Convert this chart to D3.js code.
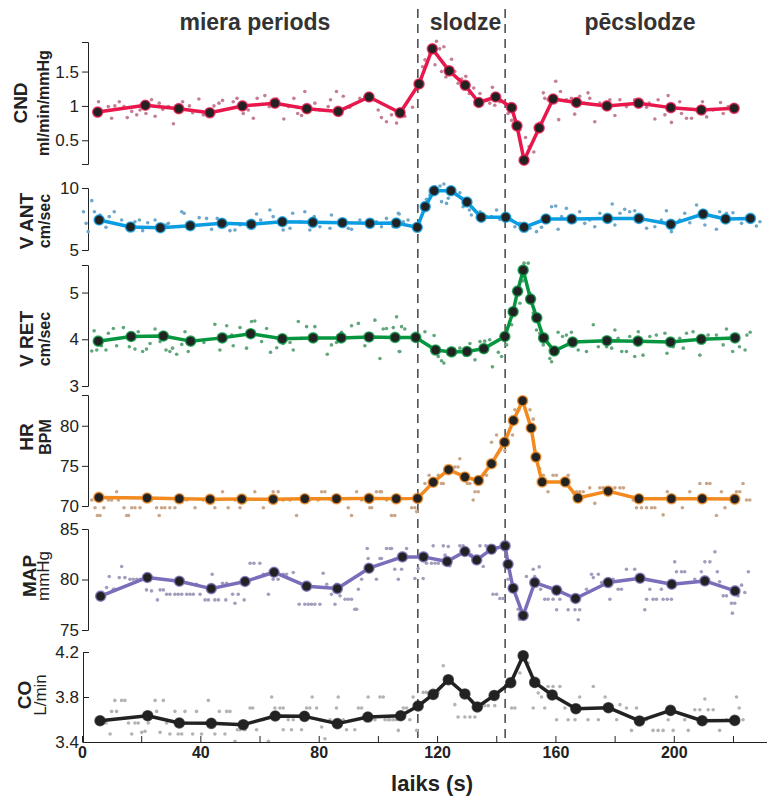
<!DOCTYPE html>
<html lang="lv">
<head>
<meta charset="UTF-8">
<title>Slodzes tests</title>
<script src="https://d3js.org/d3.v7.min.js"></script>
<style>
  body { margin: 0; background: #fff; }
  text { font-family: "Liberation Sans", Arial, sans-serif; fill: #222; }
  .axis path, .axis line { stroke: #222; stroke-width: 1; }
  .axis text { font-size: 17px; fill: #222; }
  .xaxis text { font-weight: bold; font-size: 16px; }
</style>
</head>
<body>
<svg id="chart" width="767" height="800"></svg>
<script>
const phaseNames = ['miera periods', 'slodze', 'pēcslodze'];
const phaseBreaks = [113.5, 143];
const timeTicks = [0, 20, 40, 60, 80, 100, 120, 140, 160, 180, 200, 220];
const timeLabels = [0, 40, 80, 120, 160, 200];

// CND, ml/min/mmHg
const cndTime = [5.3, 21.4, 32.7, 43.2, 54.2, 65.2, 76, 86.6, 97, 107.5, 113.9, 118.4, 124.1, 129.5, 134.1, 139.8, 145.2, 147, 149.4, 154.5, 159.2, 167.1, 177.4, 188.1, 199, 209.3, 220.4];
const cndMean = [0.91, 1.01, 0.96, 0.90, 1.00, 1.04, 0.96, 0.92, 1.13, 0.90, 1.32, 1.83, 1.51, 1.30, 1.05, 1.13, 0.975, 0.71, 0.21, 0.68, 1.10, 1.05, 1.00, 1.04, 0.975, 0.94, 0.965];
const cndDots = [[5.6,1.06],[8.9,0.99],[10,0.82],[11.1,1],[12.6,1.06],[14.2,0.99],[15.3,0.83],[16.8,0.92],[18.5,0.87],[19.6,0.94],[21.6,0.89],[23.5,1.09],[24.7,0.85],[26.1,1.04],[27.3,0.95],[29.2,0.99],[30.9,0.74],[34,1.06],[36.3,1],[37.4,0.9],[39.5,1.1],[41,0.87],[42.3,0.94],[44.6,1],[46.3,1.04],[47.5,1.08],[51.1,1.06],[52.4,1.11],[54.5,0.89],[56.2,0.94],[57.9,0.82],[59.2,1.11],[61.8,1.15],[63.3,0.99],[65.8,1.1],[68.2,0.81],[69.8,0.99],[71.6,1.11],[72.9,0.89],[74.2,0.86],[75.3,1.21],[78.7,1.04],[80.4,0.94],[83.2,0.99],[84,1.09],[86,1.21],[88.3,1.14],[90.5,0.98],[93.9,1.11],[95.6,1.13],[98.4,1.09],[100.1,0.94],[101.2,0.83],[102.9,0.77],[104.6,0.87],[106.3,0.75],[109.1,0.85],[111.7,0.98],[115.1,1.57],[115.9,1.67],[117.6,1.77],[119.3,1.6],[119.8,1.94],[120.9,1.83],[122.3,1.86],[121.5,1.5],[123,1.42],[124.9,1.68],[126,1.5],[127.1,1.33],[128.3,1.39],[129.7,1.43],[130.9,1.18],[132.4,1.26],[134.5,1.18],[136.7,1.08],[137.8,1.04],[138.7,1.27],[139.5,1.01],[141.2,1.06],[144,0.89],[145.2,0.79],[148,0.65],[149.9,0.54],[151.1,0.41],[152.7,0.33],[154.7,0.75],[155.9,1.19],[156.4,1.11],[157.5,1.09],[160.1,1.36],[161.1,0.8],[161.7,1.21],[163.7,1.09],[165.4,1.11],[166.5,0.88],[168.2,1.14],[169.6,1.04],[171,1.19],[171.6,1.11],[173.3,0.77],[175,1.04],[178.4,1.09],[180.1,0.86],[181.8,1.09],[184,0.99],[186.8,1.09],[190.8,0.98],[191.7,1.04],[193.6,0.81],[194.7,1.09],[197,0.87],[198.1,1.15],[199.2,0.76],[202,1.06],[202.6,0.89],[204.3,0.82],[206,0.82],[207.7,0.94],[209.7,1.06],[211.1,0.84],[213.3,0.94],[215.8,1.05],[216.7,0.89],[218.4,0.99]];

// V ANT, cm/sec
const vantTime = [5.8, 16.4, 26.5, 36.6, 47.3, 57.2, 67.7, 78, 88, 97.3, 106.2, 113.3, 116, 119, 124.7, 130.1, 134.9, 143.2, 149.4, 156.8, 165.5, 177.6, 188.2, 199, 209.9, 217.5, 225.9];
const vantMean = [7.42, 6.85, 6.80, 6.96, 7.15, 7.07, 7.28, 7.23, 7.20, 7.15, 7.17, 6.83, 8.5, 9.78, 9.78, 8.87, 7.64, 7.64, 6.83, 7.5, 7.5, 7.55, 7.55, 7.07, 7.9, 7.5, 7.55];
const vantDots = [[0.5,8.09],[1.4,7.15],[2.1,6.48],[3.3,8.98],[4.2,8.09],[6.1,7.82],[8.1,6.83],[9.2,7.69],[10.9,8.09],[13.4,7.42],[17.9,7.28],[19.4,7.42],[20.5,6.56],[22.2,7.2],[24.7,7.42],[27.5,6.67],[28.4,7.02],[29.2,7.15],[33.7,8.09],[34.5,7.96],[35.4,6.88],[37.8,7.02],[39.6,7.61],[42.1,7.55],[43.8,6.67],[45.7,7.55],[48.9,7.02],[50,6.56],[51.7,6.61],[53.4,7.02],[56.2,7.28],[59,7.9],[60.4,7.42],[63.5,8.23],[64.6,7.69],[68,6.61],[70.3,6.75],[71.2,7.96],[73.6,7.28],[75.3,8.09],[77,6.61],[78.5,7.69],[80.4,6.88],[83.8,6.75],[84.3,7.82],[87.2,7.15],[90,6.75],[91.1,6.67],[93.9,7.42],[97.9,7.42],[99.5,7.28],[101.2,6.88],[102.9,7.55],[105.2,6.88],[106.9,7.96],[107.2,7.9],[108.6,7.28],[110.2,7.42],[116.4,9.09],[117.6,9.44],[119.3,10.1],[121,10.16],[122.3,10.32],[121.5,8.9],[123.2,8.76],[123.8,9.17],[126.6,9.44],[127.7,9.62],[128.8,8.49],[130.9,8.23],[131.6,7.82],[134.5,8.09],[136.7,7.69],[138.4,7.69],[140.1,8.23],[141.2,7.47],[145.2,7.42],[146.3,6.88],[148,7.15],[151.4,6.75],[153.6,6.48],[155.3,6.83],[158.7,8.49],[160.1,8.55],[160.9,6.67],[162.1,7.69],[163.7,8.36],[166.6,7.28],[168.2,8.09],[169.9,7.15],[171.6,7.42],[173.3,6.88],[175,7.96],[177.3,7.42],[179.2,8.71],[180.1,7.02],[181.8,7.96],[183.4,8.28],[185.1,8.09],[186.8,8.17],[189.6,7.42],[190.8,6.75],[193.6,6.88],[195.8,7.42],[197.5,8.17],[199.2,6.48],[202,7.42],[203.7,7.96],[205.4,7.2],[207.7,8.63],[210.5,7.02],[214.4,6.67],[215.5,8.09],[217.8,7.96],[220,8.01],[222.9,7.15],[227.9,6.94],[229.1,7.28]];

// V RET, cm/sec
const vretTime = [5.5, 16.6, 27.5, 36.7, 47.4, 57, 67.7, 78.1, 87.6, 97, 105.8, 112.8, 119.5, 124.9, 130.1, 135.8, 142.9, 145.7, 147.2, 149.1, 151.6, 153.7, 156, 159.6, 165.8, 177.4, 187.9, 198.9, 209.3, 220.7];
const vretMean = [3.96, 4.06, 4.07, 3.96, 4.03, 4.12, 4.01, 4.03, 4.03, 4.05, 4.04, 4.04, 3.77, 3.73, 3.74, 3.80, 4.06, 4.59, 5.03, 5.48, 4.86, 4.46, 4.03, 3.75, 3.94, 3.97, 3.96, 3.94, 4.00, 4.03];
const vretDots = [[3.3,3.75],[4.1,4.18],[5,3.77],[6.6,3.86],[8.1,3.77],[8.9,4.13],[10.6,4.23],[11.7,3.86],[14,4.25],[16,3.84],[17.9,3.79],[19,4.16],[20.5,3.74],[21.8,3.79],[23,3.91],[24.7,4.22],[26.4,3.95],[28.4,3.77],[29.7,3.74],[30.6,3.81],[32,3.68],[33.7,3.89],[34.8,4.16],[35.9,3.74],[37.6,3.93],[41.2,3.93],[44.9,4.32],[46.6,3.77],[48.9,4.29],[50.6,4.09],[51.1,3.86],[53.4,4.25],[55.6,3.81],[57.3,4.38],[58.4,4.39],[60.7,3.95],[62.4,4.23],[63.7,3.72],[65.8,3.82],[68,3.91],[70.3,3.93],[71.4,3.77],[73.1,4.38],[74.2,4.02],[75.9,4.27],[78.7,4.27],[79.8,4.02],[82.9,3.68],[84.3,3.88],[86,3.93],[87.7,4.15],[91.1,4.29],[93.4,4.34],[95.6,3.86],[99,4.41],[100.7,3.59],[102.9,4.23],[104.6,4.06],[106.3,4.48],[107.2,3.74],[101.8,4.22],[105.2,4.25],[107.4,3.74],[108,4.27],[109.1,4.22],[115.9,4.16],[119,4.08],[120.4,3.63],[121.5,3.54],[122.3,3.49],[123.8,3.68],[126,3.7],[127.7,3.81],[129.4,3.66],[131.1,3.91],[132.8,3.56],[134.5,3.95],[136.1,3.96],[137.8,3.99],[138.7,3.41],[140.7,3.72],[141.8,3.63],[143.5,3.88],[145.2,4.31],[146.3,4.66],[148,4.77],[148.9,5.25],[149.4,5.63],[150.8,5.63],[151.4,4.98],[151.9,4.77],[152.5,4.56],[153.6,4.2],[154.7,4.13],[155.9,3.88],[158.1,3.59],[158.7,3.52],[160.9,4.15],[162.4,4.06],[163.7,4.09],[165.4,4.15],[167.7,3.77],[170.5,3.74],[172.8,4.31],[174.5,3.84],[177.3,3.84],[179,3.81],[180.1,4.2],[181.2,4.02],[182.4,3.74],[184,3.74],[185.1,4.06],[186.8,3.63],[188,4.16],[189.6,3.66],[191.9,4.06],[194.1,4.09],[197,4.13],[197.7,3.7],[199.8,3.84],[202,4.02],[203.2,3.81],[204.3,4.13],[206.5,4.16],[208.8,3.66],[211.6,4.09],[214.4,4.09],[216.7,3.88],[217.8,4.22],[219.9,3.74],[222.2,3.84],[224.1,3.77],[224.7,4.09],[225.8,4.15]];

// HR, BPM
const hrTime = [5.7, 22, 32.9, 43.3, 54, 64.6, 75.3, 86, 97, 106.2, 113.4, 118.7, 123.9, 129.4, 134, 138.4, 142.8, 145.8, 148.9, 151.8, 153.4, 155.5, 163.3, 167.6, 177.8, 188.2, 199.2, 209.6, 220.6];
const hrMean = [71.07, 70.99, 70.9, 70.83, 70.86, 70.83, 70.9, 70.9, 70.95, 70.9, 70.95, 72.96, 74.53, 73.62, 73.17, 75.27, 77.94, 80.65, 83.12, 79.72, 76.09, 73.0, 73.0, 70.99, 71.85, 70.9, 70.9, 70.9, 70.86];
const hrDots = [[3.3,70.74],[4.4,69.79],[5.2,68.81],[6.1,68.81],[7.4,69.79],[8.9,70.74],[10,70.74],[11.7,71.77],[12.3,70.74],[14.2,69.79],[15.1,68.81],[15.7,68.81],[16.8,69.79],[17.9,69.79],[19.6,69.79],[21.8,70.74],[23.5,70.74],[25.2,69.79],[26.1,68.81],[26.9,69.79],[28,69.79],[29.7,69.79],[31.4,69.79],[33.7,70.74],[35.4,70.74],[38.2,69.79],[41,70.74],[44.9,69.79],[47.5,71.77],[49.4,69.79],[51.7,70.74],[53.4,69.79],[55.6,70.74],[58.4,71.77],[61.3,69.79],[63.5,70.74],[64.6,71.77],[66.3,71.77],[68,70.74],[70.3,70.74],[72.5,68.81],[74.8,70.74],[77,70.74],[79.8,70.74],[81,71.77],[82.1,71.77],[84.3,70.74],[87.2,70.74],[90,69.79],[91.1,68.81],[92.8,71.77],[94.5,70.74],[97.3,69.79],[97.9,69.79],[99.5,71.77],[100.7,71.77],[102.9,70.74],[104.6,68.81],[105.7,68.81],[101.2,71.77],[111.4,69.79],[112.5,69.79],[113.1,69.3],[115.9,72.8],[117.3,73.83],[118.7,73.42],[120.4,73.83],[121.5,72.8],[122.1,72.8],[126,74.86],[127.7,75.88],[127.1,74.86],[130.2,72.8],[131.1,72.8],[132.2,70.74],[132.8,71.77],[133.9,71.77],[136.7,73.83],[138.4,77.94],[140.1,78.85],[141.2,76.91],[142.9,76.91],[144,77.74],[145.5,78.85],[146.3,81.98],[147.7,81.98],[151.4,81.98],[152.5,80.82],[153.6,76.3],[154.7,74.65],[155.9,73.83],[157.5,71.77],[159.2,73.83],[160.3,73.83],[164.3,73.83],[167.1,71.77],[168.2,71.77],[169.4,71.77],[171.6,72.26],[173.3,70.33],[175,72.26],[176.1,72.26],[178.4,72.26],[180.1,72.26],[181.8,72.26],[183,72.26],[186.3,70.74],[187.4,69.79],[189.1,69.79],[190.8,69.79],[192.5,69.79],[193.6,69.79],[196.4,68.89],[197.8,71.77],[200.3,70.74],[202.9,69.79],[205.4,71.77],[208.8,72.8],[211.1,72.8],[212.2,72.8],[214.4,68.81],[216.1,71.77],[217.3,69.79],[221.2,71.77],[222.3,71.77],[223.4,72.8],[224.6,70.74],[225.7,70.74]];

// MAP, mmHg
const mapTime = [6.3, 22.1, 32.9, 43.7, 55.1, 64.9, 75.9, 86.3, 97, 108.3, 115.4, 123.4, 129.4, 133.4, 138.4, 143, 144, 145.7, 149.1, 153, 160.4, 166.8, 177.8, 188.6, 199.3, 210.5, 220.7];
const mapMean = [78.35, 80.2, 79.83, 79.1, 79.8, 80.72, 79.34, 79.1, 81.12, 82.24, 82.24, 81.78, 82.77, 81.94, 83.0, 83.33, 81.51, 79.14, 76.44, 79.7, 78.94, 78.12, 79.7, 80.13, 79.53, 79.86, 78.87];
const mapDots = [[8.3,79.2],[9.2,80.29],[10.6,79.04],[11.1,79.04],[12.6,80.19],[13.4,81.28],[14.5,80.19],[16.2,80.03],[17.3,80.03],[18.5,80.03],[19.6,80.03],[21.8,78.97],[23.5,78.87],[25.5,77.98],[26.4,78.97],[27.5,78.97],[28.6,78.54],[29.7,78.54],[31.4,78.54],[32.5,78.54],[33.7,78.54],[35.4,78.54],[36.5,78.54],[37.6,78.54],[38.7,79.53],[39.9,78.54],[41.6,77.98],[42.7,77.98],[44,80.52],[44.9,77.98],[46.1,77.98],[47.5,79.63],[48.9,79.63],[48.6,77.98],[50.9,78.54],[51.7,77.65],[52.8,78.54],[54.8,77.98],[55.1,79.53],[56.8,81.61],[58.1,81.61],[60.1,81.61],[61.3,80.52],[62.4,80.52],[63,78.54],[64.6,80.03],[66.3,80.03],[68,80.52],[69.1,80.52],[71.4,80.69],[73.4,77.55],[75.3,77.55],[76.5,77.55],[77.6,77.55],[78.7,77.55],[80.4,77.55],[81.5,80.62],[82.7,79.53],[84.3,78.54],[85.5,77.55],[86,79.53],[87.2,78.38],[88.9,78.05],[90,78.05],[91.1,78.05],[92.2,77.06],[92.8,77.06],[93.4,79.04],[94.5,80.03],[96.4,83.07],[96.7,82.08],[99.5,80.03],[100.7,82.08],[102.9,83.07],[104.1,83.07],[105.7,82.01],[106.9,80.03],[101.2,82.08],[104.6,83.07],[105.7,81.02],[108,81.02],[109.7,83.07],[112.5,80.1],[113.6,81.09],[115.3,80.1],[116.4,81.61],[118.1,81.61],[118.7,83.33],[119.3,81.61],[120.4,81.61],[122.1,83.33],[122.7,82.41],[123.8,83.26],[124.3,81.35],[127.7,83.33],[128.8,83.33],[131.6,82.41],[134.5,83.33],[135.6,81.28],[136.5,83.33],[138.9,78.54],[140.1,78.54],[141.2,78.12],[142.3,78.12],[144,80.03],[147.4,77.06],[147.9,76.07],[150.2,80.29],[152.5,81.02],[153,80.29],[154.5,81.25],[155,79.04],[156.4,78.05],[157.5,78.05],[159.2,78.05],[160.4,77],[161.5,78.05],[164.3,77],[166.6,77],[167.7,76.01],[168.2,77],[170.5,79.04],[172.2,80.52],[172.8,80.19],[174.5,80.52],[175.6,79.7],[178.4,78.05],[179.5,80.03],[181.2,79.04],[182.3,79.04],[184,81.02],[186.8,81.02],[188.5,80.03],[190.2,77],[190.8,78.05],[191.9,79.04],[193,78.05],[194.1,78.05],[195.8,79.04],[196.4,78.05],[197.8,78.05],[199.2,78.05],[200.3,81.75],[200.9,80.76],[202.6,80.76],[203.7,80.76],[207.1,80.03],[209.3,80.76],[210.5,81.75],[212.2,81.75],[213.9,82.74],[214.7,80.76],[215.5,79.77],[216.7,78.38],[217.8,78.38],[219.5,77.65],[219.8,76.67],[220.6,77.65],[221.7,78.38],[222.9,79.44],[224,78.71],[225.2,80.76]];

// CO, L/min
const coTime = [6.1, 22.2, 32.9, 43.7, 54.5, 65.3, 75.2, 86.3, 96.6, 107.7, 113.6, 118.7, 123.8, 129.4, 133.6, 139.3, 144.9, 149.1, 153, 158.9, 166.9, 177.9, 188.4, 198.9, 209.6, 220.6];
const coMean = [3.589, 3.634, 3.569, 3.566, 3.554, 3.631, 3.628, 3.563, 3.622, 3.634, 3.72, 3.823, 3.954, 3.827, 3.711, 3.814, 3.927, 4.167, 3.93, 3.818, 3.696, 3.705, 3.587, 3.681, 3.589, 3.592];
const coDots = [[8.1,3.569],[9.5,3.471],[10,3.672],[11.1,3.77],[11.7,3.672],[13.4,3.77],[14.5,3.77],[15.7,3.569],[16.8,3.471],[17.9,3.569],[19,3.569],[20.2,3.486],[21.3,3.495],[22.4,3.569],[24.7,3.77],[25.2,3.672],[26.4,3.486],[27.5,3.77],[28.6,3.569],[29.7,3.471],[31.4,3.672],[32.5,3.471],[33.7,3.471],[34.8,3.672],[35.4,3.569],[37.4,3.471],[38.7,3.672],[40.4,3.471],[42.7,3.77],[44.9,3.471],[46.4,3.672],[48.3,3.471],[48.9,3.672],[50,3.672],[51.7,3.406],[52.5,3.509],[53.4,3.509],[55.1,3.509],[56.8,3.702],[57.7,3.702],[59,3.509],[61.3,3.598],[63,3.406],[64.1,3.8],[65.2,3.702],[66.9,3.702],[68,3.702],[68,3.509],[69.7,3.598],[70.8,3.509],[71.4,3.598],[74.2,3.509],[75.9,3.702],[77,3.702],[77.8,3.8],[79.3,3.702],[80.4,3.598],[81,3.533],[82.1,3.429],[83.8,3.598],[86,3.702],[86.6,3.8],[88.3,3.598],[89.4,3.509],[92.2,3.509],[93.4,3.702],[94.5,3.702],[96.2,3.598],[96.7,3.8],[99,3.598],[100.7,3.8],[101.8,3.8],[104.1,3.598],[106.3,3.598],[102.4,3.598],[103.5,3.598],[105.2,3.598],[106.9,3.503],[108.6,3.702],[109.7,3.702],[110.8,3.598],[111.9,3.8],[113.1,3.503],[115.3,3.841],[116.4,3.841],[118.1,3.841],[120.4,3.841],[122.1,4.078],[123.8,3.954],[126,3.732],[127.1,3.622],[129.4,3.622],[131.1,3.622],[132.8,3.622],[136.1,3.723],[137.3,3.723],[139.5,3.723],[143.5,3.894],[145.2,3.702],[146.3,3.702],[148,4.013],[150.8,4.102],[152.5,3.702],[153,3.894],[154.2,3.835],[155.3,3.8],[156.4,3.702],[157.5,3.894],[159.2,3.894],[160.4,3.598],[161.5,3.894],[163.2,3.702],[164.3,3.598],[166.6,3.598],[168.2,3.8],[171,3.598],[172.8,3.894],[174.5,3.598],[176.8,3.8],[180.7,3.598],[181.8,3.732],[184,3.702],[185.7,3.503],[187.4,3.702],[190.8,3.598],[193,3.503],[194.7,3.503],[196.4,3.503],[198.1,3.598],[199.8,3.503],[203.7,3.598],[204.9,3.503],[207.1,3.687],[208.8,3.687],[210.5,3.782],[211.6,3.687],[213.3,3.687],[215.5,3.503],[217.8,3.598],[221.2,3.8],[222.1,3.702],[223.4,3.598]];

const panels = [
  { name: 'CND', unit: 'ml/min/mmHg', unitBold: true, time: cndTime, mean: cndMean, dots: cndDots,
    domain: [0.155, 1.93], top: 42, bottom: 164, ticks: [0.5, 1, 1.5], fmt: d => String(d),
    color: '#e8184c', dotColor: '#c47f95', l1: 27, l2: 49, ly: 103 },
  { name: 'V ANT', unit: 'cm/sec', unitBold: true, time: vantTime, mean: vantMean, dots: vantDots,
    domain: [5, 10], top: 188, bottom: 250, ticks: [5, 10], fmt: d => String(d),
    color: '#0a9de2', dotColor: '#6ea7c9', l1: 33, l2: 50, ly: 221 },
  { name: 'V RET', unit: 'cm/sec', unitBold: true, time: vretTime, mean: vretMean, dots: vretDots,
    domain: [3, 5.59], top: 265, bottom: 386, ticks: [3, 4, 5], fmt: d => String(d),
    color: '#05963f', dotColor: '#62a77c', l1: 33, l2: 50, ly: 339 },
  { name: 'HR', unit: 'BPM', unitBold: true, time: hrTime, mean: hrMean, dots: hrDots,
    domain: [70, 83.83], top: 395, bottom: 506, ticks: [70, 75, 80], fmt: d => String(d),
    color: '#f28a1f', dotColor: '#c9a688', l1: 33, l2: 51, ly: 437 },
  { name: 'MAP', unit: 'mmHg', unitBold: false, time: mapTime, mean: mapMean, dots: mapDots,
    domain: [75, 85], top: 529, bottom: 630, ticks: [75, 80, 85], fmt: d => String(d),
    color: '#7a6db9', dotColor: '#a39dbd', l1: 36, l2: 49, ly: 576 },
  { name: 'CO', unit: 'L/min', unitBold: false, time: coTime, mean: coMean, dots: coDots,
    domain: [3.4, 4.2], top: 652, bottom: 742, ticks: [3.4, 3.8, 4.2], fmt: d3.format('.1f'),
    color: '#222222', dotColor: '#b3b3b3', l1: 31, l2: 46, ly: 695 }
];

const svg = d3.select('#chart');
const x = d3.scaleLinear().domain([0, 231.5]).range([82, 767]);

// phase boundaries
svg.selectAll('.phase-line')
  .data(phaseBreaks)
  .enter().append('line')
  .attr('x1', d => x(d)).attr('x2', d => x(d))
  .attr('y1', 9).attr('y2', 742)
  .attr('stroke', '#444').attr('stroke-width', 1.5)
  .attr('stroke-dasharray', '9,6');

const phaseEdges = [0].concat(phaseBreaks, [231.5]);
svg.selectAll('.phase-name')
  .data(phaseNames)
  .enter().append('text')
  .attr('x', (d, i) => x((phaseEdges[i] + phaseEdges[i + 1]) / 2) + (i === 0 ? 5 : 4))
  .attr('y', 30)
  .attr('text-anchor', 'middle')
  .style('font-size', '23px').style('font-weight', 'bold').style('fill', '#333')
  .text(d => d);

panels.forEach((p, i) => {
  const isLast = i === panels.length - 1;
  const y = d3.scaleLinear().domain(p.domain).range([p.bottom, p.top]);
  const g = svg.append('g');

  const axisX = isLast ? 83 : 88;
  g.append('g')
    .attr('class', 'axis')
    .attr('transform', `translate(${axisX},0)`)
    .call(d3.axisLeft(y).tickValues(p.ticks).tickFormat(p.fmt)
      .tickSize(isLast ? -6 : 6).tickPadding(isLast ? 4 : 3));

  // raw samples
  g.selectAll('.dot')
    .data(p.dots)
    .enter().append('circle')
    .attr('cx', d => x(d[0]))
    .attr('cy', d => y(d[1]))
    .attr('r', 1.8)
    .attr('fill', p.dotColor);

  const line = d3.line()
    .x((d, k) => x(p.time[k]))
    .y(d => y(d));

  g.append('path')
    .datum(p.mean)
    .attr('d', line)
    .attr('fill', 'none')
    .attr('stroke', p.color)
    .attr('stroke-width', 3.5)
    .attr('stroke-linejoin', 'round');

  g.selectAll('.mean')
    .data(p.mean)
    .enter().append('circle')
    .attr('cx', (d, k) => x(p.time[k]))
    .attr('cy', d => y(d))
    .attr('r', 5)
    .attr('fill', '#222')
    .attr('stroke', p.color)
    .attr('stroke-opacity', 0.75)
    .attr('stroke-width', 1.6);

  // y labels
  const lab = g.append('g');
  lab.append('text')
    .attr('transform', `translate(${p.l1},${p.ly}) rotate(-90)`)
    .attr('text-anchor', 'middle')
    .style('font-size', '19px').style('font-weight', 'bold')
    .text(p.name);
  lab.append('text')
    .attr('transform', `translate(${p.l2},${p.ly}) rotate(-90)`)
    .attr('text-anchor', 'middle')
    .style('font-size', p.unitBold ? '16px' : '17px')
    .style('font-weight', p.unitBold ? 'bold' : 'normal')
    .text(p.unit);
});

// time axis
const xAxis = d3.axisBottom(x)
  .tickValues(timeTicks)
  .tickSize(-6)
  .tickSizeOuter(0)
  .tickPadding(5)
  .tickFormat(d => timeLabels.includes(d) ? d : '');

svg.append('g')
  .attr('class', 'axis xaxis')
  .attr('transform', 'translate(0,742)')
  .call(xAxis);

svg.append('text')
  .attr('x', 432)
  .attr('y', 791)
  .attr('text-anchor', 'middle')
  .style('font-size', '22px').style('font-weight', 'bold')
  .text('laiks (s)');
</script>
</body>
</html>
